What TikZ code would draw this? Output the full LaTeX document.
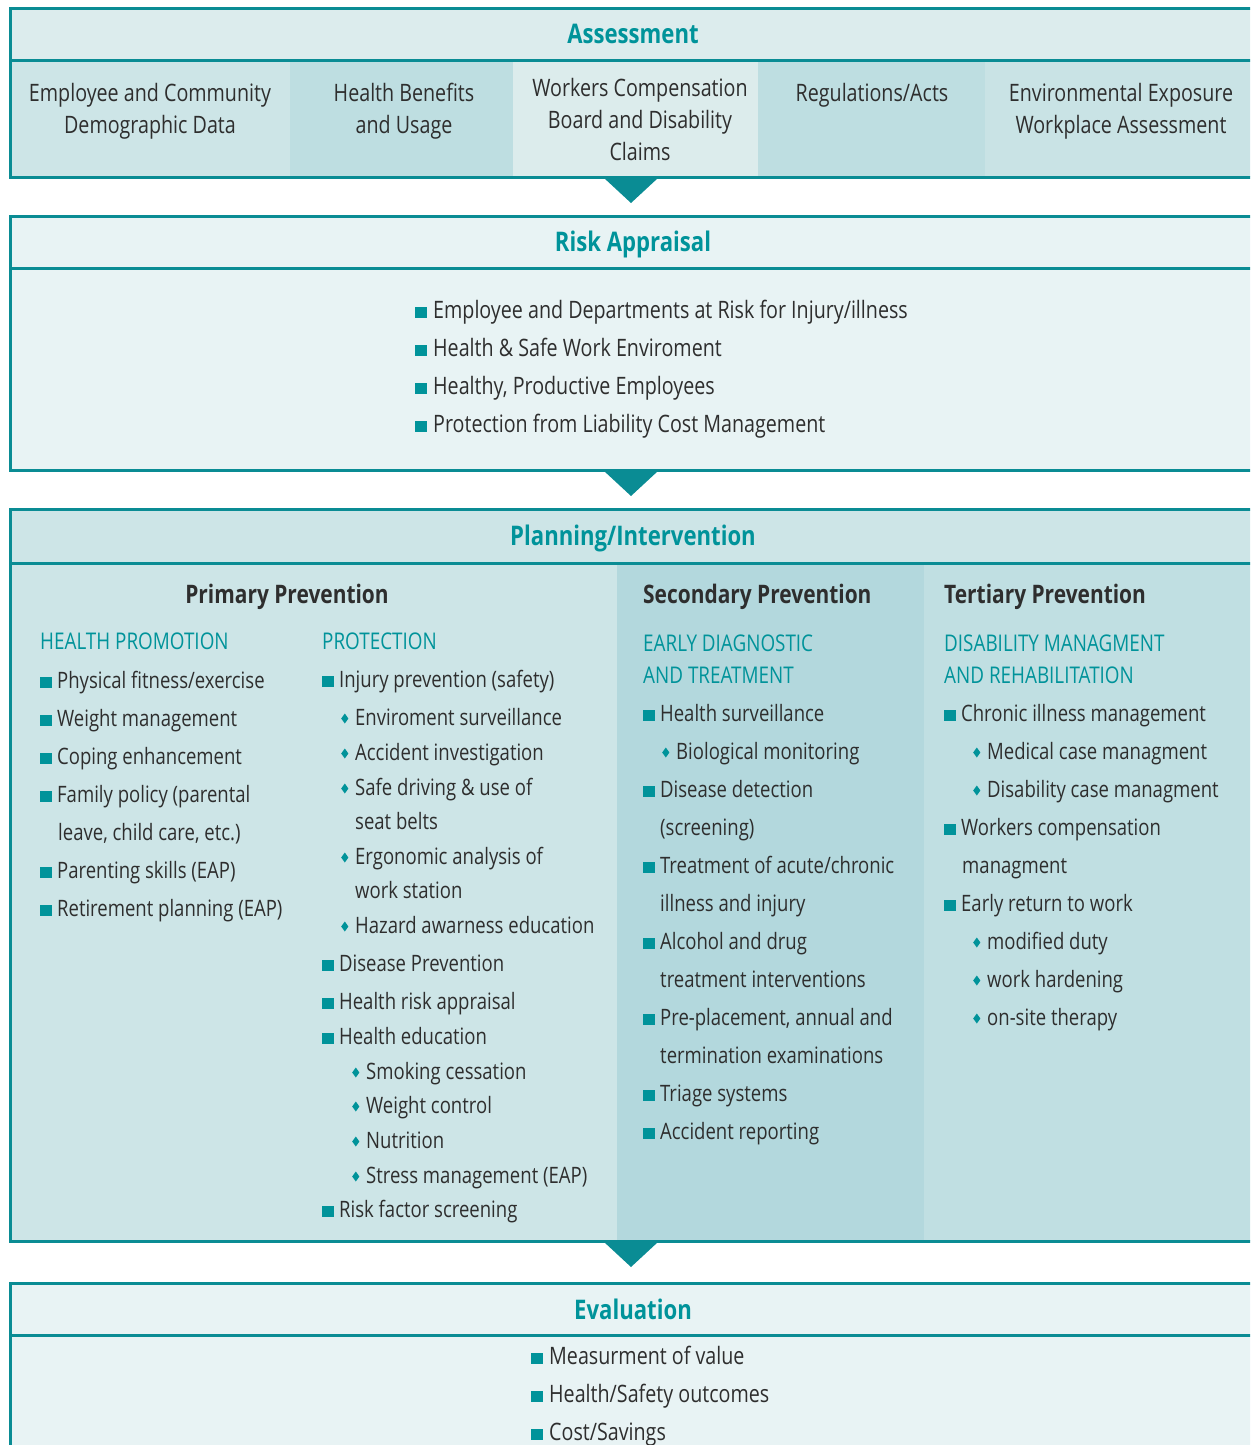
\documentclass[tikz,border=0pt]{standalone}
\usepackage{fontspec}
\setmainfont[FakeStretch=0.82]{Open Sans}
\definecolor{tl}{HTML}{0A8C94}
\definecolor{tltxt}{HTML}{00939A}
\definecolor{txt}{HTML}{2E2E2E}
\definecolor{hdA}{HTML}{DCECED}
\definecolor{lt}{HTML}{E8F3F4}
\definecolor{cA}{HTML}{CDE5E7}
\definecolor{cB}{HTML}{BEDEE1}
\definecolor{cC}{HTML}{DCECEC}
\definecolor{cE}{HTML}{C9E3E5}
\definecolor{pB}{HTML}{B3D8DD}
\definecolor{pC}{HTML}{C0DFE2}
\newcommand\sqb{{\color{tltxt}\rule{0.5em}{0.47em}}\hspace{0.25em}}
\newcommand\dmb{\tikz[baseline=0pt,x=1pt,y=1pt]\fill[tltxt](0,6.5)--(3.6,11.5)--(7.2,6.5)--(3.6,1.5)--cycle;\hspace{0.3em}}
\tikzset{
  bt/.style={font=\fontsize{24}{28}\selectfont, text=txt, inner sep=0pt, anchor=base west, yshift=-8pt},
  btp/.style={font=\fontsize{22.6}{28}\selectfont, text=txt, inner sep=0pt, anchor=base west, yshift=-8pt},
  bc/.style={font=\fontsize{24}{32}\selectfont, text=txt, inner sep=0pt, align=center},
  ttl/.style={font=\bfseries\fontsize{27}{30}\selectfont, text=tltxt, inner sep=0pt, anchor=base, yshift=-9.5pt},
  subhd/.style={font=\bfseries\fontsize{25.5}{28}\selectfont, text=txt, inner sep=0pt, anchor=base, yshift=-9pt},
  subhdl/.style={subhd, anchor=base west},
  captl/.style={font=\fontsize{23}{27}\selectfont, text=tltxt, inner sep=0pt, anchor=base west, yshift=-8pt},
  boxline/.style={draw=tl, line width=3pt},
  arrowtri/.style={fill=tl}
}
\begin{document}
\begin{tikzpicture}[x=1pt,y=-1pt]
\useasboundingbox (0,0) rectangle (1250,1445);
\clip (0,0) rectangle (1250,1445);
% ---------- Assessment ----------
\fill[hdA] (10,9) rectangle (1260,61);
\fill[cA] (10,61) rectangle (290,177);
\fill[cB] (290,61) rectangle (513,177);
\fill[cC] (513,61) rectangle (758,177);
\fill[cB] (758,61) rectangle (985,177);
\fill[cE] (985,61) rectangle (1260,177);
\draw[boxline] (1260,9) -- (10,9) -- (10,177) -- (1260,177);
\draw[boxline] (10,61) -- (1260,61);
\node[ttl] (assess) at (633,34) {Assessment};
\node[bc] (a1) at (150,111) {Employee and Community\\Demographic Data};
\node[bc] (a2) at (404,111) {Health Benefits\\and Usage};
\node[bc] (a3) at (640,119) {Workers Compensation\\Board and Disability\\Claims};
\node[bc] (a4) at (872,95) {Regulations/Acts};
\node[bc] (a5) at (1121,111) {Environmental Exposure\\Workplace Assessment};
\fill[arrowtri] (604,178) -- (658,178) -- (631,203) -- cycle;
% ---------- Risk Appraisal ----------
\fill[lt] (10,216) rectangle (1260,470);
\draw[boxline] (1260,216) -- (10,216) -- (10,470) -- (1260,470);
\draw[boxline] (10,268) -- (1260,268);
\node[ttl] (risk) at (633,242) {Risk Appraisal};
\node[bt] (r1) at (415,310) {\sqb Employee and Departments at Risk for Injury/illness};
\node[bt] (r2) at (415,348) {\sqb Health \& Safe Work Enviroment};
\node[bt] (r3) at (415,386) {\sqb Healthy, Productive Employees};
\node[bt] (r4) at (415,424) {\sqb Protection from Liability Cost Management};
\fill[arrowtri] (604,471) -- (658,471) -- (631,496) -- cycle;
% ---------- Planning / Intervention ----------
\fill[cA] (10,509) rectangle (1260,563);
\fill[cA] (10,563) rectangle (617,1241);
\fill[pB] (617,563) rectangle (924,1241);
\fill[pC] (924,563) rectangle (1260,1241);
\draw[boxline] (1260,509) -- (10,509) -- (10,1241) -- (1260,1241);
\draw[boxline] (10,563) -- (1260,563);
\node[ttl] (plan) at (633,536) {Planning/Intervention};
\node[subhd] (prim) at (287,594) {Primary Prevention};
\node[subhdl] (sec) at (643,594) {Secondary Prevention};
\node[subhdl] (ter) at (944,594) {Tertiary Prevention};
% Health promotion
\node[captl] (hp) at (40,641) {HEALTH PROMOTION};
\node[btp] (hp1) at (40,680) {\sqb Physical fitness/exercise};
\node[btp] (hp2) at (40,718) {\sqb Weight management};
\node[btp] (hp3) at (40,756) {\sqb Coping enhancement};
\node[btp] (hp4) at (40,794) {\sqb Family policy (parental};
\node[btp] (hp4b) at (58,832) {leave, child care, etc.)};
\node[btp] (hp5) at (40,870) {\sqb Parenting skills (EAP)};
\node[btp] (hp6) at (40,908) {\sqb Retirement planning (EAP)};
% Protection
\node[captl] (pr) at (322,641) {PROTECTION};
\node[btp] (pr1) at (322,679) {\sqb Injury prevention (safety)};
\node[btp] (pr1a) at (341,717) {\dmb Enviroment surveillance};
\node[btp] (pr1b) at (341,752) {\dmb Accident investigation};
\node[btp] (pr1c) at (341,787) {\dmb Safe driving \& use of};
\node[btp] (pr1cc) at (355,821) {seat belts};
\node[btp] (pr1d) at (341,856) {\dmb Ergonomic analysis of};
\node[btp] (pr1dd) at (355,890) {work station};
\node[btp] (pr1e) at (341,925) {\dmb Hazard awarness education};
\node[btp] (pr2) at (322,963) {\sqb Disease Prevention};
\node[btp] (pr3) at (322,1001) {\sqb Health risk appraisal};
\node[btp] (pr4) at (322,1036) {\sqb Health education};
\node[btp] (pr4a) at (352,1071) {\dmb Smoking cessation};
\node[btp] (pr4b) at (352,1105) {\dmb Weight control};
\node[btp] (pr4c) at (352,1140) {\dmb Nutrition};
\node[btp] (pr4d) at (352,1175) {\dmb Stress management (EAP)};
\node[btp] (pr5) at (322,1209) {\sqb Risk factor screening};
% Secondary
\node[captl] (ed1) at (643,643) {EARLY DIAGNOSTIC};
\node[captl] (ed2) at (643,675) {AND TREATMENT};
\node[btp] (s1) at (643,713) {\sqb Health surveillance};
\node[btp] (s1a) at (662,751) {\dmb Biological monitoring};
\node[btp] (s2) at (643,789) {\sqb Disease detection};
\node[btp] (s2b) at (660,827) {(screening)};
\node[btp] (s3) at (643,865) {\sqb Treatment of acute/chronic};
\node[btp] (s3b) at (660,903) {illness and injury};
\node[btp] (s4) at (643,941) {\sqb Alcohol and drug};
\node[btp] (s4b) at (660,979) {treatment interventions};
\node[btp] (s5) at (643,1017) {\sqb Pre-placement, annual and};
\node[btp] (s5b) at (660,1055) {termination examinations};
\node[btp] (s6) at (643,1093) {\sqb Triage systems};
\node[btp] (s7) at (643,1131) {\sqb Accident reporting};
% Tertiary
\node[captl] (dm1) at (944,643) {DISABILITY MANAGMENT};
\node[captl] (dm2) at (944,675) {AND REHABILITATION};
\node[btp] (t1) at (944,713) {\sqb Chronic illness management};
\node[btp] (t1a) at (973,751) {\dmb Medical case managment};
\node[btp] (t1b) at (973,789) {\dmb Disability case managment};
\node[btp] (t2) at (944,827) {\sqb Workers compensation};
\node[btp] (t2b) at (962,865) {managment};
\node[btp] (t3) at (944,903) {\sqb Early return to work};
\node[btp] (t3a) at (973,941) {\dmb modified duty};
\node[btp] (t3b) at (973,979) {\dmb work hardening};
\node[btp] (t3c) at (973,1017) {\dmb on-site therapy};
\fill[arrowtri] (604,1242) -- (658,1242) -- (631,1267) -- cycle;
% ---------- Evaluation ----------
\fill[lt] (10,1283) rectangle (1260,1460);
\draw[boxline] (1260,1283) -- (10,1283) -- (10,1460);
\draw[boxline] (10,1335) -- (1260,1335);
\node[ttl] (eval) at (633,1310) {Evaluation};
\node[bt] (e1) at (531,1356) {\sqb Measurment of value};
\node[bt] (e2) at (531,1394) {\sqb Health/Safety outcomes};
\node[bt] (e3) at (531,1432) {\sqb Cost/Savings};
\end{tikzpicture}
\end{document}
